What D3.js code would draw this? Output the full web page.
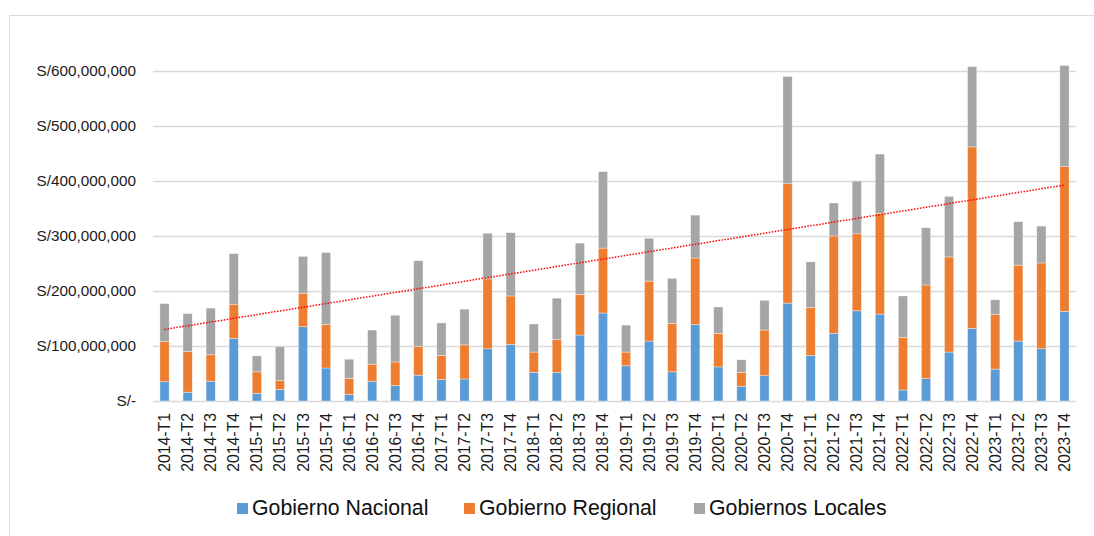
<!DOCTYPE html>
<html>
<head>
<meta charset="utf-8">
<script src="https://cdn.jsdelivr.net/npm/d3@7"></script>
<style>
  body { margin: 0; background: #fff; }
  svg { font-family: "Liberation Sans", Arial, sans-serif; }
</style>
</head>
<body>
<svg width="1094" height="536"></svg>
<script>
const quarters = ["2014-T1","2014-T2","2014-T3","2014-T4","2015-T1","2015-T2","2015-T3","2015-T4",
  "2016-T1","2016-T2","2016-T3","2016-T4","2017-T1","2017-T2","2017-T3","2017-T4",
  "2018-T1","2018-T2","2018-T3","2018-T4","2019-T1","2019-T2","2019-T3","2019-T4",
  "2020-T1","2020-T2","2020-T3","2020-T4","2021-T1","2021-T2","2021-T3","2021-T4",
  "2022-T1","2022-T2","2022-T3","2022-T4","2023-T1","2023-T2","2023-T3","2023-T4"];

// millions of soles
const nacional = [35,16,36,114,14,21,135,60,12,36,28,47,39,40,95,103,52,52,120,160,
  64,109,53,139,62,27,46,178,83,123,164,158,20,41,89,132,58,109,95,163];
const regional = [73,74,48,62,39,16,61,79,29,31,43,52,44,62,127,88,37,60,74,118,
  25,109,88,121,61,25,83,217,87,177,140,183,96,170,173,330,99,138,156,263];
const locales = [69,69,85,92,29,62,67,131,35,62,85,156,59,65,83,115,51,75,93,139,
  49,78,82,78,48,23,54,195,83,60,96,108,75,104,110,146,27,79,67,184];

const seriesNames = ["Gobierno Nacional", "Gobierno Regional", "Gobiernos Locales"];
const seriesColors = ["#5b9bd5", "#ed7d31", "#a5a5a5"];
const yTicks = [0, 100, 200, 300, 400, 500, 600];

const svg = d3.select("svg");
const plotLeft = 153, plotRight = 1076, plotTop = 71, plotBottom = 401;

const rows = quarters.map((q, i) => ({
  q: q, nacional: nacional[i], regional: regional[i], locales: locales[i]
}));
const keys = ["nacional", "regional", "locales"];
const stacked = d3.stack().keys(keys)(rows);

const x = d3.scaleBand().domain(quarters).range([plotLeft, plotRight]).paddingInner(0.6).paddingOuter(0.3);
const y = d3.scaleLinear().domain([0, 600]).range([plotBottom, plotTop]);

// chart frame
svg.append("rect")
  .attr("x", 9.5).attr("y", 15.5).attr("width", 1200).attr("height", 600)
  .attr("fill", "none").attr("stroke", "#d9d9d9");

// gridlines
svg.append("g").selectAll("line")
  .data(yTicks)
  .enter().append("line")
    .attr("x1", plotLeft).attr("x2", plotRight)
    .attr("y1", d => Math.round(y(d)) + 0.5).attr("y2", d => Math.round(y(d)) + 0.5)
    .attr("stroke", "#d9d9d9").attr("stroke-width", 1.3);

// y labels
svg.append("g").selectAll("text")
  .data(yTicks)
  .enter().append("text")
    .attr("x", 136)
    .attr("y", d => y(d))
    .attr("dy", "0.35em")
    .attr("text-anchor", "end")
    .attr("font-size", 15.3)
    .attr("fill", "#1a1a1a")
    .text(d => d === 0 ? "S/-" : "S/" + d3.format(",")(d * 1e6));

// bars
svg.append("g").selectAll("g")
  .data(stacked)
  .enter().append("g")
    .attr("fill", (d, i) => seriesColors[i])
  .selectAll("rect")
  .data(d => d)
  .enter().append("rect")
    .attr("x", d => x(d.data.q))
    .attr("width", x.bandwidth())
    .attr("y", d => y(d[1]))
    .attr("height", d => y(d[0]) - y(d[1]))
    .attr("stroke", "#fff").attr("stroke-opacity", 0.6).attr("stroke-width", 0.6);

// x labels
svg.append("g").selectAll("text")
  .data(quarters)
  .enter().append("text")
    .attr("transform", d => "translate(" + (x(d) + x.bandwidth() / 2) + ",413) rotate(-90)")
    .attr("text-anchor", "end")
    .attr("dy", "0.35em")
    .attr("font-size", 15.8)
    .attr("fill", "#1a1a1a")
    .text(d => d);

// linear trend of totals
const totals = rows.map(r => r.nacional + r.regional + r.locales);
const n = totals.length;
const xs = d3.range(1, n + 1);
const mx = d3.mean(xs), my = d3.mean(totals);
const slope = d3.sum(xs, (v, i) => (v - mx) * (totals[i] - my)) / d3.sum(xs, v => (v - mx) * (v - mx));
const icpt = my - slope * mx;
svg.append("line")
  .attr("x1", x(quarters[0]) + x.bandwidth() / 2)
  .attr("x2", x(quarters[n - 1]) + x.bandwidth() / 2)
  .attr("y1", y(icpt + slope * 1))
  .attr("y2", y(icpt + slope * n))
  .attr("stroke", "#ff0000").attr("stroke-width", 1.5)
  .attr("stroke-dasharray", "1.5,1.5");

// legend
const legendX = [237, 464, 694];
const legend = svg.append("g").selectAll("g")
  .data(seriesNames)
  .enter().append("g")
    .attr("transform", (d, i) => "translate(" + legendX[i] + ",503)");
legend.append("rect")
  .attr("width", 11).attr("height", 11)
  .attr("fill", (d, i) => seriesColors[i]);
legend.append("text")
  .attr("x", 15).attr("y", 12)
  .attr("font-size", 21.3)
  .attr("fill", "#111")
  .text(d => d);
</script>
</body>
</html>
